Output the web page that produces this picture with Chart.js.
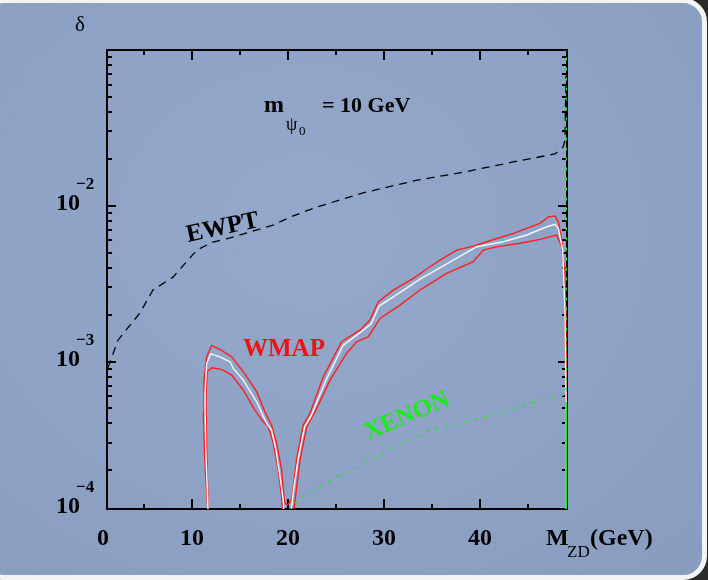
<!DOCTYPE html>
<html>
<head>
<meta charset="UTF-8">
<title>delta vs M_ZD</title>
<script src="https://cdn.jsdelivr.net/npm/chart.js"></script>
<style>
  html, body { margin: 0; width: 708px; height: 580px; overflow: hidden; background: #2a2a2a; }
  #slide {
    position: absolute; left: -20px; top: -2px; width: 727px; height: 582px;
    box-sizing: border-box; border: 5px solid #f3f3f3; border-radius: 24px;
    background: radial-gradient(ellipse at 45% 40%, #93a8ca 0%, #8da2c4 55%, #889cbf 100%);
  }
  #chart { position: absolute; left: 0; top: 0; }
</style>
</head>
<body>
<div id="slide"></div>
<canvas id="chart" width="708" height="580"></canvas>

<script>
// axis ranges
var xMin = 1.15, xMax = 49.06;
var yMin = 1.13e-4, yMax = 0.1;

// ticks
var xMajor = [10, 20, 30, 40];
var xMinor = [5, 15, 25, 35, 45];
var xLabels = [0, 10, 20, 30, 40];
var yMajor = [1e-3, 1e-2];
var yLabelExp = [-2, -3, -4];

// EWPT (dashed black)
var ewptX = [1.25, 2.29, 4.58, 5.94, 8.02, 10.52, 12.19, 13.96, 18.44, 20.21, 23.02, 27.81, 33.44, 38.23, 43.44, 47.81, 48.65, 48.85, 48.95];
var ewptY = [9.1e-4, 1.37e-3, 2.05e-3, 2.88e-3, 3.48e-3, 5.2e-3, 5.85e-3, 6.21e-3, 7.52e-3, 8.45e-3, 9.82e-3, 1.21e-2, 1.46e-2, 1.64e-2, 1.91e-2, 2.15e-2, 2.38e-2, 2.64e-2, 6.8e-2];

// WMAP upper band edge (red), runs through both lobes
var wmapHiX = [11.70, 11.35, 11.18, 11.25, 11.53, 12.05, 13.09, 14.14, 15.34, 16.74, 17.60, 18.30, 18.82, 19.34, 19.58, 19.69, 19.95, 20.21, 20.42, 20.91, 21.59, 22.29, 23.68, 25.59, 27.5, 28.54, 29.41, 30.97, 33.05, 34.79, 35.83, 37.57, 39.30, 40.70, 43.47, 46.25, 47.11, 47.81, 48.16, 48.51, 48.75, 48.93, 48.99, 49.0];
var wmapHiY = [1e-4, 2.22e-4, 4.65e-4, 7.6e-4, 1.07e-3, 1.27e-3, 1.18e-3, 1.07e-3, 8.6e-4, 6.4e-4, 4.75e-4, 3.9e-4, 2.98e-4, 2.01e-4, 1.35e-4, 1.23e-4, 1.2e-4, 1.25e-4, 1.33e-4, 2.39e-4, 3.91e-4, 4.65e-4, 7.98e-4, 1.34e-3, 1.59e-3, 1.85e-3, 2.42e-3, 2.87e-3, 3.42e-3, 4.06e-3, 4.48e-3, 5.19e-3, 5.51e-3, 5.87e-3, 6.65e-3, 7.71e-3, 8.49e-3, 8.59e-3, 7.89e-3, 6.02e-3, 4.06e-3, 2.14e-3, 5.65e-4, 1e-4];

// WMAP central value (white)
var wmapMidLX = [11.70, 11.43, 11.35, 11.53, 11.95, 12.92, 13.96, 14.30, 15.34, 16.74, 17.78, 18.30, 18.75, 19.17, 19.51, 19.61];
var wmapMidLY = [1e-4, 2.83e-4, 5.93e-4, 9.73e-4, 1.12e-3, 1.07e-3, 9.96e-4, 9.03e-4, 7.6e-4, 5.51e-4, 4.0e-4, 3.62e-4, 2.70e-4, 1.82e-4, 1.29e-4, 1e-4];
var wmapMidRX = [20.26, 20.57, 21.07, 21.72, 22.45, 23.96, 25.73, 27.6, 28.65, 29.48, 31.25, 33.75, 37.22, 39.66, 42.43, 44.86, 46.95, 47.81, 48.16, 48.61, 48.85, 48.96, 48.98];
var wmapMidRY = [1e-4, 1.49e-4, 2.39e-4, 3.79e-4, 4.53e-4, 7.6e-4, 1.27e-3, 1.55e-3, 1.74e-3, 2.27e-3, 2.67e-3, 3.38e-3, 4.48e-3, 5.46e-3, 5.87e-3, 6.49e-3, 7.33e-3, 7.6e-3, 7.16e-3, 5.19e-3, 2.14e-3, 5.65e-4, 1e-4];

// WMAP lower band edge (red)
var wmapLoLX = [11.70, 11.53, 11.46, 11.59, 12.05, 13.09, 14.14, 15.34, 16.56, 17.26, 17.95, 18.47, 18.99, 19.34, 19.45];
var wmapLoLY = [1e-4, 2.83e-4, 5.93e-4, 8.59e-4, 9.12e-4, 8.9e-4, 8.18e-4, 6.55e-4, 4.88e-4, 4.21e-4, 3.81e-4, 2.98e-4, 2.01e-4, 1.35e-4, 1e-4];
var wmapLoRX = [20.52, 21.25, 21.95, 22.81, 24.38, 26.11, 27.15, 28.36, 29.58, 31.67, 33.75, 36.53, 39.30, 40.34, 41.74, 44.17, 46.25, 47.99, 48.51, 48.75, 48.85, 48.96, 48.98];
var wmapLoRY = [1e-4, 2.33e-4, 3.81e-4, 4.75e-4, 7.6e-4, 1.13e-3, 1.34e-3, 1.44e-3, 1.89e-3, 2.30e-3, 2.88e-3, 3.68e-3, 4.37e-3, 5.19e-3, 5.45e-3, 5.74e-3, 6.08e-3, 6.49e-3, 5.46e-3, 4.06e-3, 2.14e-3, 5.65e-4, 1e-4];

// XENON (dotted green) and its solid piece on the right edge
var xenonX = [20.0, 21.25, 25.07, 28.2, 30.97, 34.79, 38.96, 43.13, 46.43, 48.68, 49.0, 49.0];
var xenonY = [1.1e-4, 1.32e-4, 1.82e-4, 2.23e-4, 2.83e-4, 3.62e-4, 4.16e-4, 4.92e-4, 5.65e-4, 6.08e-4, 6.08e-4, 0.1];
var xenonEdgeX = [49.0, 49.0];
var xenonEdgeY = [1e-4, 5.5e-4];

var RED = '#ff1e1e', GREEN = '#1ee81e';

function pts(xs, ys) {
    return xs.map(function (x, i) { return { x: x, y: ys[i] }; });
}
function line(data, color, width, dash) {
    return { data: data, borderColor: color, borderWidth: width, borderDash: dash || [],
             pointRadius: 0, tension: 0, fill: false };
}

// frame and inward ticks, drawn under the curves
var framePlugin = {
    id: 'frame',
    beforeDatasetsDraw: function (chart) {
        var ctx = chart.ctx, a = chart.chartArea;
        var sx = chart.scales.x, sy = chart.scales.y;
        ctx.save();
        ctx.strokeStyle = '#000';
        ctx.lineWidth = 2;
        ctx.strokeRect(a.left, a.top, a.right - a.left, a.bottom - a.top);
        ctx.beginPath();
        function xt(v, len) {
            var p = Math.round(sx.getPixelForValue(v));
            ctx.moveTo(p, a.bottom); ctx.lineTo(p, a.bottom - len);
            ctx.moveTo(p, a.top); ctx.lineTo(p, a.top + len);
        }
        function yt(v, len) {
            var p = Math.round(sy.getPixelForValue(v));
            ctx.moveTo(a.left, p); ctx.lineTo(a.left + len, p);
            ctx.moveTo(a.right, p); ctx.lineTo(a.right - len, p);
        }
        xMajor.forEach(function (v) { xt(v, 10); });
        xMinor.forEach(function (v) { xt(v, 5); });
        yMajor.forEach(function (v) { yt(v, 9); });
        for (var k = -4; k <= -2; k++) {
            for (var m = 2; m <= 9; m++) {
                var v = m * Math.pow(10, k);
                if (v > yMin && v < yMax) yt(v, 5);
            }
        }
        ctx.stroke();
        ctx.restore();
    },
    afterDraw: function (chart) {
        var ctx = chart.ctx, a = chart.chartArea;
        var sx = chart.scales.x, sy = chart.scales.y;
        ctx.save();
        ctx.fillStyle = '#000';
        ctx.textBaseline = 'alphabetic';

        // x tick labels
        ctx.font = 'bold 24px "Liberation Serif"';
        ctx.textAlign = 'center';
        xLabels.forEach(function (v) {
            var p = Math.max(sx.getPixelForValue(v), a.left - 4);
            ctx.fillText(String(v), p, 545);
        });
        ctx.textAlign = 'left';
        ctx.fillText('M', 546, 545);
        ctx.font = '17px "Liberation Serif"';
        ctx.fillText('ZD', 567, 557);
        ctx.font = 'bold 24px "Liberation Serif"';
        ctx.fillText('(GeV)', 590, 545);

        // y tick labels
        yLabelExp.forEach(function (e) {
            var p = Math.min(sy.getPixelForValue(Math.pow(10, e)), a.bottom);
            ctx.font = 'bold 24px "Liberation Serif"';
            ctx.textAlign = 'right';
            ctx.fillText('10', 80, p + 4);
            ctx.font = 'bold 17px "Liberation Serif"';
            ctx.textAlign = 'left';
            ctx.fillText('\u2212' + (-e), 76, p - 17);
        });

        // y axis title
        ctx.font = '21px "Liberation Serif"';
        ctx.fillText('\u03b4', 75, 31);

        // parameter label
        ctx.font = 'bold 24px "Liberation Serif"';
        ctx.fillText('m', 264, 112);
        ctx.font = '18px "Liberation Serif"';
        ctx.fillText('\u03c8', 286, 130);
        ctx.font = '13px "Liberation Serif"';
        ctx.fillText('0', 299, 135);
        ctx.font = 'bold 22px "Liberation Serif"';
        ctx.fillText('= 10 GeV', 322, 112);

        // curve labels
        ctx.font = 'bold 25px "Liberation Serif"';
        ctx.save();
        ctx.translate(188, 242);
        ctx.rotate(-12 * Math.PI / 180);
        ctx.fillText('EWPT', 0, 0);
        ctx.restore();

        ctx.fillStyle = '#f01212';
        ctx.fillText('WMAP', 243, 356);

        ctx.fillStyle = GREEN;
        ctx.save();
        ctx.translate(368, 440);
        ctx.rotate(-23 * Math.PI / 180);
        ctx.fillText('XENON', 0, 0);
        ctx.restore();

        ctx.restore();
    }
};

var ctx = document.getElementById('chart').getContext('2d');
var chart = new Chart(ctx, {
    type: 'line',
    data: {
        datasets: [
            line(pts(xenonEdgeX, xenonEdgeY), GREEN, 2),
            line(pts(xenonX, xenonY), GREEN, 1.4, [3, 7]),
            line(pts(wmapMidLX, wmapMidLY), '#f4f6ff', 1.4),
            line(pts(wmapMidRX, wmapMidRY), '#f4f6ff', 1.4),
            line(pts(wmapHiX, wmapHiY), RED, 1.4),
            line(pts(wmapLoLX, wmapLoLY), RED, 1.4),
            line(pts(wmapLoRX, wmapLoRY), RED, 1.4),
            line(pts(ewptX, ewptY), '#000', 1.3, [8, 6])
        ]
    },
    options: {
        responsive: false,
        devicePixelRatio: 1,
        animation: false,
        layout: { padding: { left: 107, right: 141, top: 50, bottom: 71 } },
        plugins: { legend: { display: false }, tooltip: { enabled: false } },
        scales: {
            x: { type: 'linear', min: xMin, max: xMax, display: false },
            y: { type: 'logarithmic', min: yMin, max: yMax, display: false }
        }
    },
    plugins: [framePlugin]
});
</script>
</body>
</html>
